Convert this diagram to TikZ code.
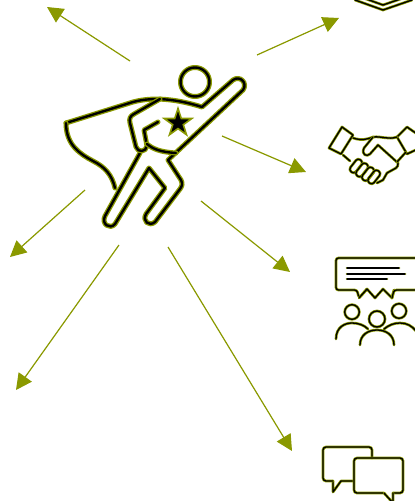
\documentclass[tikz,border=0pt]{standalone}
\usetikzlibrary{arrows.meta, shapes.geometric}
\definecolor{zelena}{RGB}{138,153,0}
\begin{document}
\begin{tikzpicture}[x=1mm, y=-1mm,
    strela/.style={-{Triangle[length=16mm, width=16mm]}, draw=zelena, fill=zelena, line width=1.2mm},
    junak/.style={draw=zelena, double=black, line width=1.3mm, double distance=2.4mm, line join=round, line cap=round},
    ikona/.style={draw=zelena, double=black, line width=0.7mm, double distance=1.3mm, line join=round, line cap=round},
    ispuna/.style={draw=zelena, fill=black, line width=1.6mm, star, star points=5, star point ratio=2.6, inner sep=0pt, minimum size=29mm}]

    \useasboundingbox (0,0) rectangle (415,501);
    \clip (0,0) rectangle (415,501);

    % ---------------- krajevi strelica ----------------
    \coordinate (s1) at (130,61);   \coordinate (k1) at (47,7);
    \coordinate (s2) at (257,55);   \coordinate (k2) at (339,18);
    \coordinate (s3) at (222,136);  \coordinate (k3) at (306,172);
    \coordinate (s4) at (201,201);  \coordinate (k4) at (290,272);
    \coordinate (s5) at (168,247);  \coordinate (k5) at (292,451);
    \coordinate (s6) at (119,245);  \coordinate (k6) at (16,390);
    \coordinate (s7) at (85,190);   \coordinate (k7) at (10,257);

    \draw [strela] (s1) -- (k1);
    \draw [strela] (s2) -- (k2);
    \draw [strela] (s3) -- (k3);
    \draw [strela] (s4) -- (k4);
    \draw [strela] (s5) -- (k5);
    \draw [strela] (s6) -- (k6);
    \draw [strela] (s7) -- (k7);

    % ---------------- junak ----------------
    \node (zvezda) [ispuna] at (178,123) {};
    \draw [junak] (195,82) circle (14.5);
    \draw [junak] (66,123) -- (133,102) .. controls (155,96) and (180,100) .. (202,107)
        -- (233,80) .. controls (240,75) and (248,83) .. (243,90)
        -- (168,160) -- (181,180) .. controls (183,184) and (182,186) .. (180,189)
        -- (155,222) .. controls (149,227) and (142,221) .. (146,214)
        -- (165,188) -- (149,168) -- (115,224) .. controls (110,230) and (101,224) .. (105,216)
        -- (140,153);
    \draw [junak] (66,123) .. controls (66,145) and (80,154) .. (93,161) .. controls (105,167) and (112,175) .. (115,188);
    \draw [junak] (160,99) -- (134,114) .. controls (130,116) and (129,119) .. (130,123)
        -- (136,147) .. controls (138,153) and (146,152) .. (147,146) -- (144,130) -- (158,122);
    \draw [junak] (147,144) .. controls (153,149) and (160,152) .. (176,153);

    % ---------------- strelica gore ----------------
    \draw [ikona] (355,0) -- (383,10) -- (412,0);
    \draw [ikona] (355,-5) -- (383,5) -- (412,-5);

    % ---------------- rukovanje ----------------
    \draw [ikona] (342,127) -- (353,135) -- (341,154) -- (329,148) -- cycle;
    \draw [ikona] (420,136) -- (407,127) -- (397,137) -- (407,154) -- (420,148);
    \draw [ikona] (353,138) .. controls (362,141) and (368,139) .. (373,137) .. controls (382,136) and (388,140) .. (397,137);
    \draw [ikona] (373,137) -- (364,148) .. controls (361,155) and (367,157) .. (370,154) -- (378,145) -- (398,163) .. controls (399,165) and (397,167) .. (396,168)
        -- (387,173) -- (383,180) -- (377,183);
    \draw [ikona] (343,155) -- (350,161);
    \draw [ikona] (406,152) -- (397,162);
    \foreach \x/\y in {356/166, 362/170, 368/174, 374/177}
        \draw [ikona, rounded corners=3mm, rotate around={52:(\x,\y)}] (\x-7.5,\y-3.5) rectangle (\x+7.5,\y+3.5);

    % ---------------- skup ----------------
    \draw [ikona, rounded corners=2.5mm] (420,258) -- (336,258) -- (336,290) -- (357,290) -- (359,298) -- (367,289);
    \draw [ikona] (359,298) -- (367,289) -- (375,298) -- (383,289) -- (392,298) -- (394,290);
    \draw [ikona, rounded corners=2.5mm] (392,298) -- (394,290) -- (420,290);
    \draw [ikona] (347,268) -- (399,268);
    \draw [ikona] (347,274) -- (405,274);
    \draw [ikona] (347,279) -- (387,279);
    \draw [ikona] (352,312) circle (7.3);
    \draw [ikona] (377,319) circle (8);
    \draw [ikona] (399,311) circle (7.3);
    \draw [ikona] (336,339) .. controls (336,327) and (345,323) .. (352,323) .. controls (358,323) and (364,325) .. (368,329);
    \draw [ikona] (360,345) .. controls (360,335) and (368,330) .. (377,330) .. controls (386,330) and (394,335) .. (394,345);
    \draw [ikona] (384,329) .. controls (389,325) and (394,323) .. (400,323) .. controls (407,323) and (412,326) .. (416,331);

    % ---------------- razgovor ----------------
    \draw [ikona] (353,481) -- (341,481) -- (333,492) -- (333,481);
    \draw [ikona, rounded corners=3mm] (333,481) -- (323,481) -- (323,447) -- (372,447) -- (372,458);
    \draw [ikona, rounded corners=3mm] (384,493) -- (354,493) -- (354,458) -- (403,458) -- (403,493) -- (393,493);
    \draw [ikona] (393,493) -- (393,503) -- (384,493);
\end{tikzpicture}
\end{document}
